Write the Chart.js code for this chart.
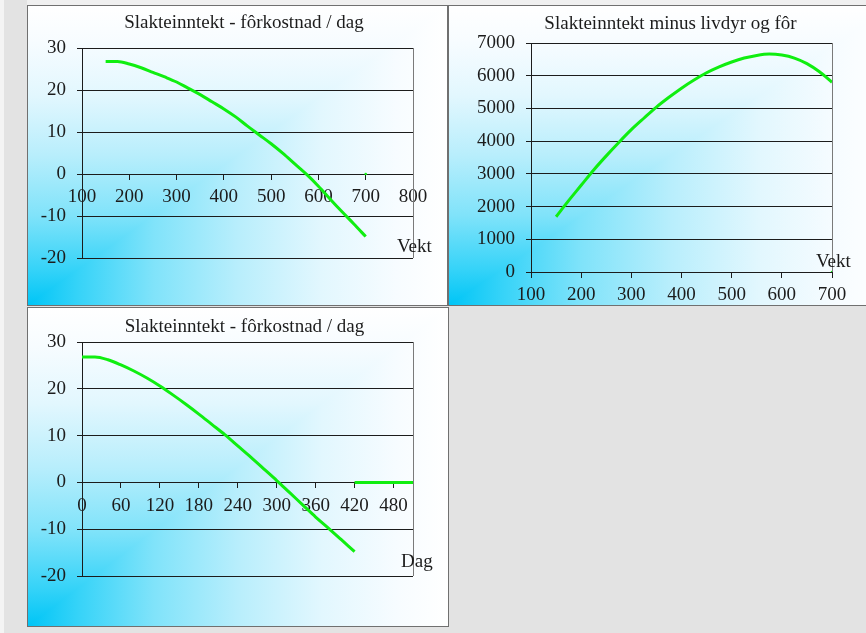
<!DOCTYPE html>
<html>
<head>
<meta charset="utf-8">
<script src="https://cdn.jsdelivr.net/npm/chart.js@4.4.1/dist/chart.umd.min.js"></script>
<style>
html,body{margin:0;padding:0;}
body{width:866px;height:633px;overflow:hidden;background:#e3e3e3;position:relative;font-family:'Liberation Serif','Times New Roman',serif;}
.panel{position:absolute;box-sizing:border-box;border:1px solid #707070;background:#fff;}
.panel canvas{display:block;}
.axname{position:absolute;font-size:19px;line-height:19px;color:#1c1c1c;white-space:nowrap;}
</style>
</head>
<body>
<div style="position:absolute;left:0;top:0;width:4px;height:633px;background:#f4f4f4"></div>
<div style="position:absolute;left:27px;top:0;width:839px;height:5px;background:#f0f0f0"></div>
<div class="panel" style="left:27px;top:5px;width:421px;height:301px"><canvas id="c1" width="419" height="299"></canvas></div>
<div class="panel" style="left:448px;top:5px;width:445px;height:301px"><canvas id="c2" width="443" height="299"></canvas></div>
<div class="panel" style="left:27px;top:307px;width:422px;height:320px"><canvas id="c3" width="420" height="318"></canvas></div>
<div class="axname" style="left:397px;top:236px">Vekt</div>
<div class="axname" style="left:816px;top:251px">Vekt</div>
<div class="axname" style="left:401px;top:551px">Dag</div>
<script>
// ---- data ----
const titleA = 'Slakteinntekt - fôrkostnad / dag';
const titleB = 'Slakteinntekt minus livdyr og fôr';
const titleC = 'Slakteinntekt - fôrkostnad / dag';

// weight (kg) axis samples
const weightKg = [150,175,200,225,250,275,300,325,350,375,400,425,450,475,500,525,550,575,600,625,650,675,700];
// slaughter income minus feed cost per day, vs weight
const netPerDayByWeight = [26.8,26.8,26.2,25.3,24.2,23.1,21.9,20.4,18.9,17.2,15.5,13.6,11.4,9.3,7.2,4.9,2.4,-0.1,-2.9,-6.0,-9.0,-11.9,-14.9];
// slaughter income minus livestock and feed, vs weight
const netTotalByWeight = [1690,2180,2650,3120,3550,3960,4350,4700,5040,5340,5620,5870,6090,6270,6420,6540,6620,6660,6630,6540,6370,6120,5800];

// day axis samples
const days = [0,20,40,60,80,100,120,140,160,180,200,220,240,260,280,300,320,340,360,380,400,420];
const netPerDayByDay = [26.8,26.8,26.2,25.1,23.8,22.3,20.6,18.7,16.7,14.6,12.4,10.2,7.8,5.4,2.9,0.4,-2.2,-4.8,-7.4,-9.8,-12.3,-14.8];

// second (zero) series
const tailDays = [420,510];
const tailValues = [0,0];
const endWeight = [700];
const endValue = [0];

// tick labels
const weightTicksA = [100,200,300,400,500,600,700,800];
const weightTicksB = [100,200,300,400,500,600,700];
const dayTicks = [0,60,120,180,240,300,360,420,480];
const perDayTicks = [-20,-10,0,10,20,30];
const totalTicks = [0,1000,2000,3000,4000,5000,6000,7000];

// ---- styling ----
const ink = '#1c1c1c';
const green = '#10ee10';
const serif = "'Liberation Serif','Times New Roman',serif";
const font19 = {family: serif, size: 19, weight: 'normal'};

const cornerFill = {
  id: 'cornerFill',
  beforeDraw(chart) {
    const {ctx, width: w, height: h} = chart;
    const stops = [[0,'#00c5f6'],[0.12,'#36d3f8'],[0.3,'#80e3fa'],[0.5,'#b8eefc'],[0.7,'#e2f7fe'],[0.88,'#f7fcff'],[1,'#ffffff']];
    ctx.save();
    let g = ctx.createLinearGradient(0, h, 0, 0);
    stops.forEach(s => g.addColorStop(s[0], s[1]));
    ctx.fillStyle = g;
    ctx.fillRect(0, 0, w, h);
    g = ctx.createLinearGradient(0, 0, w, 0);
    stops.forEach(s => g.addColorStop(s[0], s[1]));
    ctx.beginPath();
    ctx.moveTo(0, h); ctx.lineTo(w, h); ctx.lineTo(w, 0); ctx.closePath();
    ctx.fillStyle = g;
    ctx.fill();
    ctx.restore();
  }
};

const plotEdge = {
  id: 'plotEdge',
  beforeDatasetsDraw(chart) {
    const {ctx, chartArea: a} = chart;
    const x = Math.round(a.right) + 0.5;
    ctx.save();
    ctx.strokeStyle = '#7a7a7a';
    ctx.lineWidth = 1;
    ctx.beginPath();
    ctx.moveTo(x, a.top); ctx.lineTo(x, a.bottom);
    ctx.stroke();
    ctx.restore();
  }
};

function pts(xs, ys) { return xs.map((x, i) => ({x: x, y: ys[i]})); }

function curve(xs, ys) {
  return {data: pts(xs, ys), showLine: true, borderColor: green, backgroundColor: green,
          borderWidth: 3, pointRadius: 0, cubicInterpolationMode: 'monotone', fill: false};
}
function marker(xs, ys) {
  return {data: pts(xs, ys), showLine: false, pointRadius: 1.3, pointBorderWidth: 0,
          pointBackgroundColor: green, borderColor: green};
}

function buildChart(id, o) {
  return new Chart(document.getElementById(id), {
    type: 'scatter',
    data: {datasets: o.datasets},
    options: {
      responsive: false,
      animation: false,
      events: [],
      layout: {padding: o.padding},
      plugins: {
        legend: {display: false},
        tooltip: {enabled: false},
        title: {display: true, text: o.title, color: ink, font: font19, padding: o.titlePad}
      },
      scales: {
        x: {
          type: 'linear',
          position: {y: 0},
          min: o.xMin, max: o.xMax,
          afterBuildTicks: s => { s.ticks = o.xTicks.map(v => ({value: v})); },
          grid: {drawOnChartArea: false, drawTicks: true, tickLength: 5, color: ink, tickColor: ink},
          border: {display: true, color: ink, width: 1},
          ticks: {color: ink, font: font19, padding: 7, maxRotation: 0, autoSkip: false, callback: v => String(v)}
        },
        y: {
          type: 'linear',
          position: 'left',
          min: o.yMin, max: o.yMax,
          afterBuildTicks: s => { s.ticks = o.yTicks.map(v => ({value: v})); },
          afterFit: s => { s.width = o.yAxisWidth; },
          grid: {color: ink, lineWidth: 1, drawTicks: true, tickLength: 5, tickColor: ink},
          border: {display: true, color: ink, width: 1},
          ticks: {color: ink, font: font19, padding: 11, callback: v => String(v)}
        },
        yRight: {
          type: 'linear',
          position: 'right',
          display: true,
          afterFit: s => { s.width = o.rightSpace; },
          grid: {display: false, drawTicks: false},
          border: {display: false},
          ticks: {display: false}
        }
      }
    },
    plugins: [cornerFill, plotEdge]
  });
}

buildChart('c1', {
  title: titleA,
  datasets: [curve(weightKg, netPerDayByWeight), marker(endWeight, endValue)],
  xMin: 100, xMax: 800, xTicks: weightTicksA,
  yMin: -20, yMax: 30, yTicks: perDayTicks,
  padding: {left: 13, right: 0, top: 0, bottom: 47},
  yAxisWidth: 41,
  rightSpace: 34,
  titlePad: {top: 6, bottom: 13.2}
});

buildChart('c2', {
  title: titleB,
  datasets: [curve(weightKg, netTotalByWeight), marker(endWeight, endValue)],
  xMin: 100, xMax: 700, xTicks: weightTicksB,
  yMin: 0, yMax: 7000, yTicks: totalTicks,
  padding: {left: 0, right: 0, top: 0, bottom: 33},
  yAxisWidth: 82,
  rightSpace: 60,
  titlePad: {top: 7, bottom: 7.2}
});

buildChart('c3', {
  title: titleC,
  datasets: [curve(days, netPerDayByDay), curve(tailDays, tailValues)],
  xMin: 0, xMax: 510, xTicks: dayTicks,
  yMin: -20, yMax: 30, yTicks: perDayTicks,
  padding: {left: 13, right: 0, top: 0, bottom: 50},
  yAxisWidth: 41,
  rightSpace: 35,
  titlePad: {top: 7.5, bottom: 3.7}
});
</script>
</body>
</html>
